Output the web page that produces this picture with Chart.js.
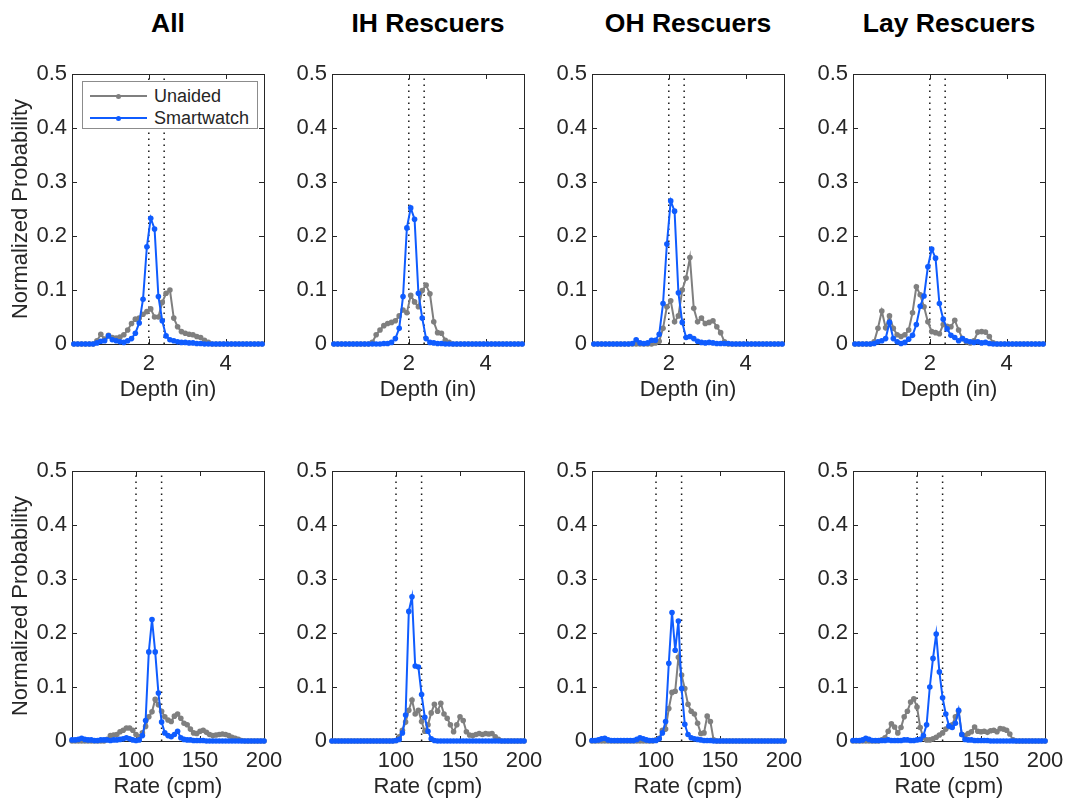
<!DOCTYPE html>
<html><head><meta charset="utf-8">
<script src="https://cdn.jsdelivr.net/npm/chart.js@4.4.1/dist/chart.umd.min.js"></script>
<style>
html,body{margin:0;padding:0;background:#fff;overflow:hidden;width:1066px;height:800px;}
#wrap{position:relative;width:1066px;height:800px;font-family:"Liberation Sans",Arial,Helvetica,sans-serif;overflow:hidden;}
#wrap canvas{position:absolute;}
.ttl{position:absolute;top:7px;width:192px;text-align:center;font-weight:bold;font-size:26.5px;line-height:32px;color:#000;white-space:nowrap;}
#legend{position:absolute;left:82px;top:81px;width:176px;height:48px;border:1px solid #8c8c8c;background:#fff;box-sizing:border-box;z-index:5;}
.lg-row{position:absolute;left:0;width:100%;height:20px;}
.lg-line{position:absolute;left:7px;width:57px;height:2px;top:9px;}
.lg-dot{position:absolute;left:33px;width:5px;height:5px;border-radius:50%;top:7.5px;}
.lg-txt{position:absolute;left:71px;top:0;font-size:18px;line-height:20px;color:#262626;}
</style></head>
<body><div id="wrap">
<div id="legend">
 <div class="lg-row" style="top:4px"><span class="lg-line" style="background:#7f7f7f"></span><span class="lg-dot" style="background:#7f7f7f"></span><span class="lg-txt">Unaided</span></div>
 <div class="lg-row" style="top:26px"><span class="lg-line" style="background:#0f5cff"></span><span class="lg-dot" style="background:#0f5cff"></span><span class="lg-txt">Smartwatch</span></div>
</div>
</div>
<script>
// ---------------- data ----------------
const groups = ['All', 'IH Rescuers', 'OH Rescuers', 'Lay Rescuers'];
const seriesNames = ['Unaided', 'Smartwatch'];

const depthBins = [0.05,0.15,0.25,0.35,0.45,0.55,0.65,0.75,0.85,0.95,
 1.05,1.15,1.25,1.35,1.45,1.55,1.65,1.75,1.85,1.95,
 2.05,2.15,2.25,2.35,2.45,2.55,2.65,2.75,2.85,2.95,
 3.05,3.15,3.25,3.35,3.45,3.55,3.65,3.75,3.85,3.95,
 4.05,4.15,4.25,4.35,4.45,4.55,4.65,4.75,4.85,4.95];

const rateBins = [50,52.5,55,57.5,60,62.5,65,67.5,70,72.5,
 75,77.5,80,82.5,85,87.5,90,92.5,95,97.5,
 100,102.5,105,107.5,110,112.5,115,117.5,120,122.5,
 125,127.5,130,132.5,135,137.5,140,142.5,145,147.5,
 150,152.5,155,157.5,160,162.5,165,167.5,170,172.5,
 175,177.5,180,182.5,185,187.5,190,192.5,195,197.5,200];

const depthTicks = [2, 4];
const rateTicks = [100, 150, 200];
const probTicks = [0, 0.1, 0.2, 0.3, 0.4, 0.5];
const depthTargets = [2, 2.4];
const rateTargets = [100, 120];
const depthRange = [0, 5];
const rateRange = [50, 200];

// Depth, unaided (gray) and smartwatch (blue)
const depthUnaidedAll = [0,0,0,0,0,0,0.006,0.018,0.009,0.016,
 0.012,0.011,0.013,0.017,0.026,0.038,0.046,0.048,0.055,0.06,
 0.065,0.05,0.05,0.077,0.094,0.1,0.048,0.032,0.023,0.02,
 0.018,0.017,0.014,0.012,0.007,0.003,0,0,0,0,
 0,0,0,0,0,0,0,0,0,0];
const depthSmartAll = [0,0,0,0,0,0,0.002,0.005,0.006,0.015,
 0.008,0.006,0.004,0.003,0.006,0.01,0.02,0.039,0.083,0.18,
 0.233,0.213,0.088,0.043,0.015,0.008,0.006,0.004,0.003,0.003,
 0.002,0.002,0.001,0.001,0,0,0,0,0,0,
 0,0,0,0,0,0,0,0,0,0];
const depthUnaidedIH = [0,0,0,0,0,0,0,0,0,0,
 0.003,0.017,0.026,0.034,0.038,0.04,0.043,0.052,0.063,0.058,
 0.09,0.078,0.069,0.099,0.109,0.093,0.041,0.021,0.02,0.007,
 0.003,0,0,0,0,0,0,0,0,0,
 0,0,0,0,0,0,0,0,0,0];
const depthSmartIH = [0,0,0,0,0,0,0,0,0,0,
 0,0,0,0.001,0.001,0.003,0.01,0.029,0.088,0.215,
 0.252,0.231,0.094,0.048,0.01,0.003,0.002,0.001,0.001,0,
 0,0,0,0,0,0,0,0,0,0,
 0,0,0,0,0,0,0,0,0,0];
const depthUnaidedOH = [0,0,0,0,0,0,0,0,0,0,
 0,0,0,0,0,0,0.002,0.005,0.029,0.069,
 0.08,0.041,0.052,0.1,0.122,0.16,0.066,0.041,0.048,0.038,
 0.04,0.043,0.032,0.021,0.004,0,0,0,0,0,
 0,0,0,0,0,0,0,0,0,0];
const depthSmartOH = [0,0,0,0,0,0,0,0,0,0,
 0.001,0.008,0.002,0.001,0.002,0.007,0.007,0.018,0.075,0.185,
 0.265,0.246,0.095,0.04,0.012,0.014,0.01,0.005,0.003,0.002,
 0.003,0.002,0.001,0.001,0.001,0.001,0,0,0,0,
 0,0,0,0,0,0,0,0,0,0];
const depthUnaidedLay = [0,0,0,0,0,0.004,0.029,0.061,0.03,0.052,
 0.029,0.017,0.014,0.017,0.026,0.058,0.106,0.091,0.069,0.041,
 0.023,0.021,0.019,0.036,0.033,0.032,0.044,0.026,0.01,0.004,
 0.002,0.006,0.022,0.023,0.022,0.014,0.002,0,0,0,
 0,0,0,0,0,0,0,0,0,0];
const depthSmartLay = [0,0,0,0,0,0.001,0.004,0.006,0.01,0.04,
 0.01,0.004,0.001,0.003,0.009,0.016,0.036,0.07,0.089,0.143,
 0.176,0.159,0.075,0.046,0.028,0.016,0.012,0.006,0.01,0.006,
 0.004,0.003,0.004,0.002,0.003,0.001,0,0,0,0,
 0,0,0,0,0,0,0,0,0,0];

// Rate, unaided (gray) and smartwatch (blue)
const rateUnaidedAll = [0,0,0,0,0,0,0,0,0,0,
 0,0.003,0.01,0.011,0.012,0.017,0.02,0.024,0.024,0.02,
 0.012,0.008,0.015,0.027,0.045,0.054,0.077,0.067,0.055,0.045,
 0.039,0.036,0.046,0.05,0.042,0.033,0.03,0.022,0.015,0.014,
 0.018,0.02,0.016,0.012,0.01,0.011,0.012,0.013,0.012,0.01,
 0.007,0.005,0.003,0.001,0,0,0,0,0,0,0];
const rateSmartAll = [0.002,0.002,0.003,0.005,0.003,0.002,0.002,0.001,0.001,0.002,
 0.002,0.002,0.001,0.002,0.002,0.003,0.004,0.006,0.004,0.002,
 0.001,0.002,0.01,0.038,0.165,0.225,0.165,0.089,0.035,0.015,
 0.01,0.008,0.012,0.018,0.006,0.003,0.002,0.002,0.001,0.001,
 0.001,0.001,0,0,0,0,0,0,0,0,
 0,0,0,0,0,0,0,0,0,0,0];
const rateUnaidedIH = [0,0,0,0,0,0,0,0,0,0,
 0,0,0,0,0,0,0,0,0,0,
 0.001,0.008,0.02,0.035,0.057,0.076,0.05,0.057,0.036,0.018,
 0.03,0.052,0.068,0.055,0.07,0.05,0.042,0.03,0.017,0.03,
 0.045,0.038,0.017,0.011,0.01,0.012,0.014,0.012,0.014,0.013,
 0.014,0.008,0.003,0,0,0,0,0,0,0,0];
const rateSmartIH = [0,0,0,0,0,0,0,0,0,0,
 0,0,0,0,0,0,0,0,0,0,
 0.001,0.003,0.015,0.048,0.24,0.267,0.139,0.137,0.086,0.044,
 0.018,0.004,0.001,0,0,0,0,0,0,0,
 0,0,0,0,0,0,0,0,0,0,
 0,0,0,0,0,0,0,0,0,0,0];
const rateUnaidedOH = [0,0,0,0,0,0,0,0,0,0,
 0,0,0,0,0,0,0,0,0,0,
 0.002,0.005,0.02,0.022,0.06,0.09,0.092,0.155,0.122,0.097,
 0.068,0.055,0.05,0.033,0.014,0.015,0.046,0.036,0.002,0,
 0,0,0,0,0,0,0,0,0,0,
 0,0,0,0,0,0,0,0,0,0,0];
const rateSmartOH = [0.001,0.001,0.002,0.004,0.005,0.002,0.001,0.001,0.001,0.001,
 0.001,0.001,0.001,0.001,0.003,0.006,0.004,0.002,0.001,0.001,
 0.001,0.004,0.015,0.036,0.144,0.238,0.168,0.222,0.097,0.031,
 0.012,0.006,0.004,0.003,0.002,0.001,0.001,0.001,0,0,
 0,0,0,0,0,0,0,0,0,0,
 0,0,0,0,0,0,0,0,0,0,0];
const rateUnaidedLay = [0,0,0,0,0,0,0,0,0,0.002,
 0.006,0.018,0.032,0.026,0.015,0.025,0.045,0.055,0.072,0.078,
 0.063,0.025,0.006,0.002,0.002,0.004,0.007,0.011,0.015,0.022,
 0.027,0.03,0.045,0.055,0.012,0.01,0.014,0.017,0.026,0.018,
 0.017,0.018,0.016,0.019,0.02,0.017,0.023,0.022,0.02,0.013,
 0.002,0,0,0,0,0,0,0,0,0,0];
const rateSmartLay = [0.001,0.001,0.001,0.002,0.005,0.003,0.001,0.001,0.001,0.001,
 0.001,0.002,0.001,0.001,0.001,0.001,0.002,0.002,0.001,0.001,
 0.002,0.003,0.01,0.03,0.1,0.153,0.198,0.128,0.08,0.05,
 0.028,0.025,0.033,0.057,0.012,0.003,0.002,0.002,0.001,0.001,
 0.001,0.001,0.001,0,0,0,0,0,0,0,
 0,0,0,0,0,0,0,0,0,0,0];

const depthUnaided = [depthUnaidedAll, depthUnaidedIH, depthUnaidedOH, depthUnaidedLay];
const depthSmart = [depthSmartAll, depthSmartIH, depthSmartOH, depthSmartLay];
const rateUnaided = [rateUnaidedAll, rateUnaidedIH, rateUnaidedOH, rateUnaidedLay];
const rateSmart = [rateSmartAll, rateSmartIH, rateSmartOH, rateSmartLay];

// ---------------- layout / style ----------------
const FONT = '"Liberation Sans", Arial, Helvetica, sans-serif';
const TXT = '#262626';
const BLUE = '#0f5cff';
const GRAY = '#7f7f7f';
const colLeft = [72, 332, 592, 853];
const rowTop = [74, 471];
const PW = 192, PH = 270;
const M = {left: 72, right: 26, top: 16, bottom: 60};
const AXF = {family: FONT, size: 22, lineHeight: 1.2};

const boxPlugin = {
  id: 'matlabBox',
  beforeDatasetsDraw(chart) {
    const {ctx, chartArea: a, scales} = chart;
    ctx.save();
    ctx.strokeStyle = TXT;
    ctx.lineWidth = 1;
    ctx.strokeRect(a.left + 0.5, a.top + 0.5, a.right - a.left, a.bottom - a.top);
    const tl = 5;
    ctx.beginPath();
    scales.y.ticks.forEach(t => {
      const y = Math.round(scales.y.getPixelForValue(t.value)) + 0.5;
      ctx.moveTo(a.left, y); ctx.lineTo(a.left + tl, y);
      ctx.moveTo(a.right, y); ctx.lineTo(a.right - tl, y);
    });
    scales.x.ticks.forEach(t => {
      const x = Math.round(scales.x.getPixelForValue(t.value)) + 0.5;
      ctx.moveTo(x, a.bottom); ctx.lineTo(x, a.bottom - tl);
      ctx.moveTo(x, a.top); ctx.lineTo(x, a.top + tl);
    });
    ctx.stroke();
    ctx.restore();
  }
};

const wrap = document.getElementById('wrap');

function seriesDataset(bins, vals, color, label) {
  return {
    label: label,
    data: bins.map((x, i) => ({x: x, y: vals[i]})),
    borderColor: color, backgroundColor: color,
    borderWidth: 2, tension: 0,
    pointRadius: 2.8, pointHoverRadius: 2.8, pointBorderWidth: 0,
    pointBackgroundColor: color, clip: false, fill: false
  };
}

function makePanel(row, col) {
  const isDepth = row === 0;
  const w = M.left + PW + M.right, h = M.top + PH + M.bottom;
  const canvas = document.createElement('canvas');
  canvas.width = w; canvas.height = h;
  canvas.style.left = (colLeft[col] - M.left) + 'px';
  canvas.style.top = (rowTop[row] - M.top) + 'px';
  canvas.style.width = w + 'px'; canvas.style.height = h + 'px';
  wrap.appendChild(canvas);

  const bins = isDepth ? depthBins : rateBins;
  const unaided = isDepth ? depthUnaided[col] : rateUnaided[col];
  const smart = isDepth ? depthSmart[col] : rateSmart[col];
  const xTicks = isDepth ? depthTicks : rateTicks;
  const range = isDepth ? depthRange : rateRange;
  const targets = isDepth ? depthTargets : rateTargets;
  const yLo = probTicks[0], yHi = probTicks[probTicks.length - 1];

  const datasets = [
    seriesDataset(bins, smart, BLUE, seriesNames[1]),
    seriesDataset(bins, unaided, GRAY, seriesNames[0])
  ];
  targets.forEach(v => datasets.push({
    label: 'target', data: [{x: v, y: yLo}, {x: v, y: yHi}],
    borderColor: '#1a1a1a', borderWidth: 1.5, borderDash: [1.5, 4.5],
    pointRadius: 0, fill: false, tension: 0
  }));

  new Chart(canvas, {
    type: 'line',
    data: {datasets},
    plugins: [boxPlugin],
    options: {
      responsive: false, animation: false, devicePixelRatio: 1, events: [],
      layout: {padding: {left: 0, right: M.right, top: M.top, bottom: 0}},
      plugins: {legend: {display: false}, tooltip: {enabled: false}, title: {display: false}},
      scales: {
        x: {
          type: 'linear', min: range[0], max: range[1],
          afterBuildTicks: s => { s.ticks = xTicks.map(v => ({value: v})); },
          afterFit: s => { s.height = M.bottom; s.paddingLeft = 0; s.paddingRight = 0; },
          grid: {display: false, drawTicks: false},
          border: {display: false},
          ticks: {autoSkip: false, maxRotation: 0, padding: 7, color: TXT, font: AXF,
                  callback: v => String(v)},
          title: {display: true, text: isDepth ? 'Depth (in)' : 'Rate (cpm)', color: TXT,
                  font: AXF, padding: {top: 0, bottom: 1}}
        },
        y: {
          type: 'linear', min: yLo, max: yHi,
          afterBuildTicks: s => { s.ticks = probTicks.map(v => ({value: v})); },
          afterFit: s => { s.width = M.left; s.paddingTop = 0; s.paddingBottom = 0; },
          grid: {display: false, drawTicks: false},
          border: {display: false},
          ticks: {autoSkip: false, padding: 5, color: TXT, font: AXF,
                  callback: v => String(v)},
          title: {display: col === 0, text: 'Normalized Probability', color: TXT,
                  font: AXF, padding: {top: 8, bottom: 0}}
        }
      }
    }
  });
}

groups.forEach((g, c) => {
  const t = document.createElement('div');
  t.className = 'ttl';
  t.textContent = g;
  t.style.left = colLeft[c] + 'px';
  wrap.appendChild(t);
});

for (let r = 0; r < 2; r++) for (let c = 0; c < 4; c++) makePanel(r, c);
</script>
</body></html>
